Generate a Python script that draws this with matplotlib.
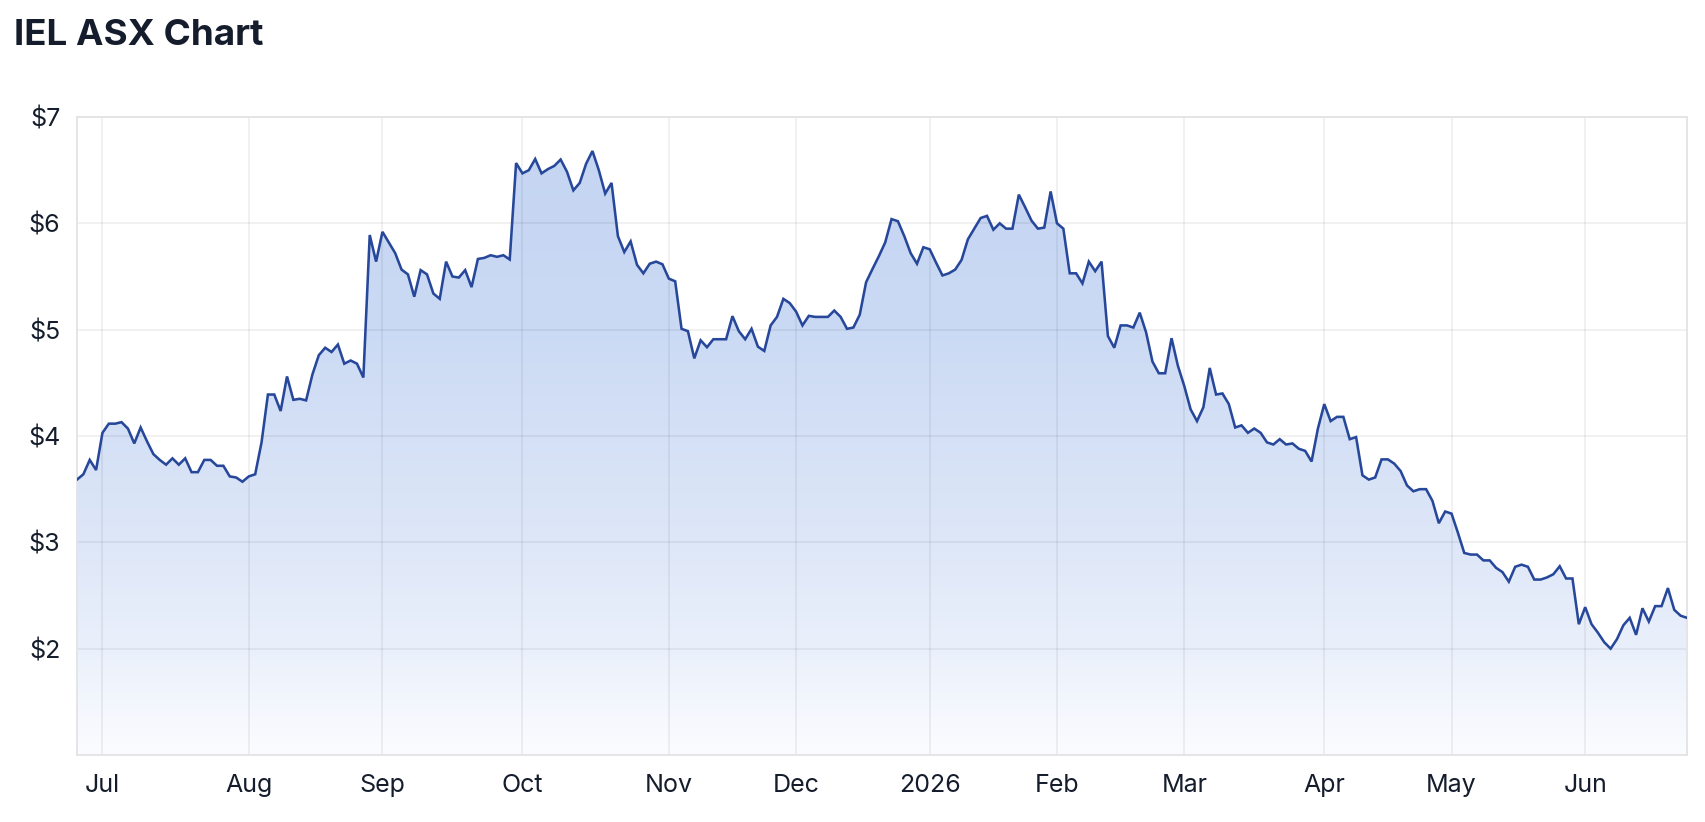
import matplotlib
matplotlib.use('Agg')
import matplotlib.pyplot as plt
import numpy as np
import pandas as pd
from matplotlib.colors import LinearSegmentedColormap

plt.rcParams['font.family'] = ['Inter', 'DejaVu Sans']

# trading days on the chart (ASX closed on the holidays)
start_date = '2025-06-25'
end_date = '2026-06-24'
holidays = ['2025-12-25', '2025-12-26', '2026-01-01', '2026-01-26',
            '2026-04-03', '2026-04-06', '2026-06-08']

# daily close
prices = [
    3.59, 3.64, 3.775, 3.68, 4.03, 4.116, 4.116, 4.13, 4.07, 3.93, 4.08, 3.95, 3.83, 3.775, 3.73, 3.79,
    3.73, 3.79, 3.66, 3.66, 3.775, 3.775, 3.72, 3.72, 3.62, 3.61, 3.57, 3.62, 3.64, 3.94, 4.39, 4.39,
    4.235, 4.56, 4.34, 4.35, 4.335, 4.58, 4.76, 4.83, 4.79, 4.86, 4.68, 4.71, 4.68, 4.55,
    5.89, 5.64, 5.92, 5.82, 5.72, 5.565, 5.52, 5.31, 5.56, 5.52, 5.34, 5.29, 5.64, 5.50, 5.49, 5.56, 5.40,
    5.665, 5.675, 5.70, 5.685, 5.70, 5.66,
    6.567, 6.47, 6.50, 6.605, 6.47, 6.51, 6.54, 6.60, 6.485, 6.31, 6.38, 6.56, 6.68, 6.50, 6.28, 6.38,
    5.88, 5.73, 5.83, 5.61, 5.53, 5.62, 5.64, 5.615,
    5.48, 5.455, 5.008, 4.986, 4.73, 4.90, 4.835, 4.91, 4.91, 4.91, 5.127, 4.986, 4.91, 5.008, 4.84,
    4.80, 5.04, 5.12, 5.29, 5.25, 5.17, 5.04, 5.13, 5.12, 5.12, 5.12, 5.18, 5.12, 5.008, 5.02,
    5.14, 5.446, 5.57, 5.69, 5.82, 6.04, 6.02, 5.88, 5.72, 5.62, 5.775, 5.756, 5.63, 5.51, 5.53, 5.565,
    5.656, 5.85, 5.95, 6.05, 6.07, 5.94, 6.00, 5.95, 5.95, 6.27, 6.15, 6.025, 5.95, 5.96, 6.30, 6.00, 5.95,
    5.53, 5.53, 5.435, 5.64, 5.55, 5.64, 4.94, 4.83, 5.04, 5.04, 5.02, 5.16, 4.975, 4.70, 4.59, 4.59,
    4.92, 4.66, 4.47, 4.25, 4.14, 4.27, 4.64, 4.39, 4.40, 4.30, 4.08, 4.10, 4.03, 4.07, 4.03, 3.94,
    3.92, 3.97, 3.92, 3.93, 3.88, 3.86, 3.76, 4.07, 4.30, 4.14, 4.18, 4.18, 3.97, 3.99, 3.63, 3.59,
    3.61, 3.78, 3.78, 3.74, 3.67, 3.535, 3.48, 3.50, 3.50, 3.39, 3.18, 3.29, 3.27, 3.09, 2.90, 2.885,
    2.885, 2.83, 2.83, 2.76, 2.72, 2.63, 2.77, 2.79, 2.77, 2.65, 2.65, 2.67, 2.70, 2.775,
    2.66, 2.66, 2.23, 2.39, 2.23, 2.15, 2.06, 2.00, 2.09, 2.22, 2.29, 2.13, 2.38, 2.255, 2.40, 2.40,
    2.57, 2.365, 2.31, 2.29,
]
y_ticks = [2, 3, 4, 5, 6, 7]

dates = pd.bdate_range(start_date, end_date, freq='C', holidays=holidays)
n = min(len(dates), len(prices))
dates = dates[:n]
prices = np.array(prices[:n])
x = np.arange(n)

# first trading day of each month -> x ticks
tick_pos = [i for i in range(1, n) if dates[i].month != dates[i - 1].month]
tick_lbl = [str(dates[i].year) if dates[i].month == 1 else dates[i].strftime('%b') for i in tick_pos]

text_col = '#151d2c'
fig = plt.figure(figsize=(17.06, 8.22), dpi=100)
ax = fig.add_axes([77 / 1706, 67 / 822, 1610 / 1706, 638 / 822])

# gradient fill under the line
cmap = LinearSegmentedColormap.from_list('fill', [
    (0.0, (251 / 255, 252 / 255, 255 / 255)),
    (1 / 6, (234 / 255, 240 / 255, 251 / 255)),
    (2 / 6, (222 / 255, 231 / 255, 248 / 255)),
    (4 / 6, (203 / 255, 218 / 255, 244 / 255)),
    (1.0, (195 / 255, 212 / 255, 242 / 255)),
])
poly = ax.fill_between(x, prices, 1, color='none', lw=0)
grad = ax.imshow(np.linspace(0, 1, 256).reshape(-1, 1), extent=[0, n - 1, 1, 7],
                 aspect='auto', cmap=cmap, origin='lower', zorder=1)
grad.set_clip_path(poly.get_paths()[0], ax.transData)

ax.plot(x, prices, color='#27479a', lw=1.85, zorder=3, solid_joinstyle='miter')

ax.set_xlim(0, n - 1)
ax.set_ylim(1, 7)
ax.set_yticks(y_ticks, [f'${v}' for v in y_ticks])
ax.set_xticks(tick_pos, tick_lbl)
ax.tick_params(length=0, labelsize=18, labelcolor=text_col)
ax.tick_params(axis='y', pad=12)
ax.tick_params(axis='x', pad=14)
ax.set_axisbelow('line')
ax.grid(True, color='black', alpha=0.07, lw=1.1)
for sp in ax.spines.values():
    sp.set_color('#e3e3e6')
    sp.set_linewidth(1.3)

fig.text(14 / 1706, 1 - 45 / 822, 'IEL ASX Chart', fontsize=26.5, fontweight='bold',
         color=text_col, ha='left', va='baseline')

fig.savefig('out.png', dpi=100, facecolor='white')
